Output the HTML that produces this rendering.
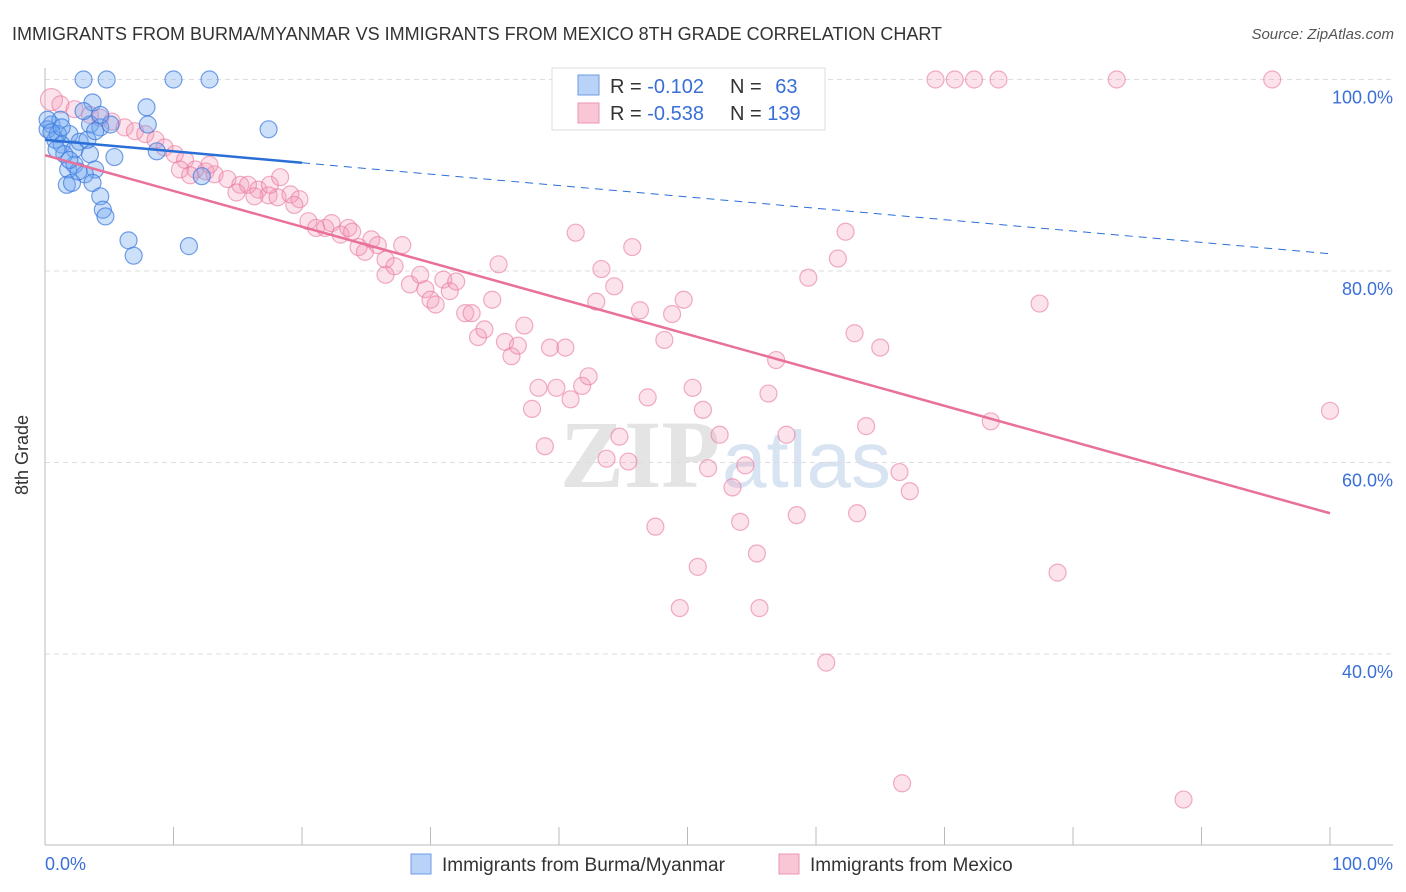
<!DOCTYPE html>
<html><head><meta charset="utf-8"><style>
body{margin:0;background:#fff;font-family:"Liberation Sans",sans-serif}
svg{display:block}
</style></head><body>
<svg id="chart" width="1406" height="892" xmlns="http://www.w3.org/2000/svg">
<text x="12" y="40" font-size="18" fill="#333">IMMIGRANTS FROM BURMA/MYANMAR VS IMMIGRANTS FROM MEXICO 8TH GRADE CORRELATION CHART</text>
<text x="1394" y="39" font-size="15" fill="#555" font-style="italic" text-anchor="end">Source: ZipAtlas.com</text>
<text x="720" y="487" font-size="96" font-family="Liberation Serif,serif" fill="#e4e4e4" text-anchor="end" font-weight="bold">ZIP</text>
<text x="722" y="487" font-size="80" fill="#d8e4f2">atlas</text>
<g id="grid"></g><g id="axes"></g><g id="pink"></g><g id="blue"></g><g id="lines"></g>
<text x="28" y="455" font-size="18" fill="#333" text-anchor="middle" transform="rotate(-90 28 455)">8th Grade</text>
<text x="45" y="870" font-size="18" fill="#3a6fd8">0.0%</text>
<text x="1393" y="870" font-size="18" fill="#3a6fd8" text-anchor="end">100.0%</text>
<g>
<rect x="552" y="68" width="273" height="62" fill="#fff" stroke="#ddd"/>
<rect x="578" y="75" width="21" height="20" fill="#b8d3f7" stroke="#6d9be0"/>
<rect x="578" y="103" width="21" height="20" fill="#f9c6d6" stroke="#ec97b2"/>
<text x="610" y="93" font-size="20" fill="#333">R = <tspan fill="#3a6fd8">-0.102</tspan></text>
<text x="730" y="93" font-size="20" fill="#333">N = <tspan fill="#3a6fd8" dx="8">63</tspan></text>
<text x="610" y="120" font-size="20" fill="#333">R = <tspan fill="#3a6fd8">-0.538</tspan></text>
<text x="730" y="120" font-size="20" fill="#333">N = <tspan fill="#3a6fd8">139</tspan></text>
</g>
<g>
<rect x="411" y="854" width="20" height="20" fill="#b8d3f7" stroke="#6d9be0"/>
<text x="442" y="871" font-size="19" fill="#333">Immigrants from Burma/Myanmar</text>
<rect x="779" y="854" width="20" height="20" fill="#f9c6d6" stroke="#ec97b2"/>
<text x="810" y="871" font-size="19" fill="#333">Immigrants from Mexico</text>
</g>
</svg>
<script>
const yTicks=[100,80,60,40];
const yTickLabels=["100.0%","80.0%","60.0%","40.0%"];
const xTicks=[0,10,20,30,40,50,60,70,80,90,100];
const blueX=[3.0,4.8,10.0,12.8,7.9,3.7,17.4,0.5,1.2,0.2,0.8,1.9,1.3,2.3,2.7,3.5,3.9,1.8,2.3,3.1,1.7,2.1,3.7,4.3,4.5,4.7,6.5,6.9,11.2,12.2,8.7,5.4,3.5,4.3,5.1,8.0,1.0,1.5,2.6,0.2,0.5,0.9,1.3,3.0,4.3,3.3,3.9,1.9];
const blueY=[100,100,100,100,97.1,97.6,94.8,95.3,95.8,94.8,93.7,94.3,93.2,92.7,93.5,92.2,90.6,90.6,91.1,90.1,89.0,89.2,89.2,87.8,86.4,85.7,83.2,81.6,82.6,89.9,92.5,91.9,95.3,95.0,95.3,95.3,94.3,92.2,90.4,95.8,94.5,92.7,95.0,96.7,96.3,93.7,94.6,91.6];
const pinkX=[69.3,70.8,72.3,74.2,83.4,95.5,47.9,59.9,58.8,0.5,1.2,2.3,3.5,4.3,5.2,6.2,7.0,7.8,8.6,9.3,10.1,10.9,11.7,12.5,13.2,14.2,15.2,15.8,16.6,17.4,18.1,19.1,19.8,12.8,10.5,11.3,14.9,16.3,17.5,18.3,19.4,20.5,21.1,21.8,22.3,23.0,23.6,23.9,24.4,24.9,25.4,25.9,26.5,27.2,27.8,26.5,28.4,29.2,29.6,30.0,30.4,31.0,31.5,32.0,32.7,33.2,33.7,34.2,34.8,35.3,35.8,36.3,36.8,37.3,37.9,38.4,38.9,39.3,39.8,40.5,40.9,41.3,41.8,42.3,42.9,43.3,43.7,44.3,44.7,45.4,45.7,46.3,46.9,47.5,48.2,48.8,49.4,49.7,50.4,50.8,51.2,51.6,52.5,53.5,54.1,54.5,55.4,55.6,56.3,56.9,57.7,58.5,59.4,60.8,61.7,62.3,63.0,63.2,63.9,65.0,66.5,67.3,73.6,77.4,78.8,88.6,66.7,100];
const pinkY=[100,100,100,100,100,100,100,100,100,97.9,97.4,96.9,96.3,96.0,95.6,95.0,94.6,94.3,93.7,92.9,92.2,91.6,90.6,90.4,90.1,89.6,89.0,89.0,88.5,87.9,87.7,88.0,87.5,91.1,90.6,90.0,88.2,87.8,89.0,89.8,86.9,85.2,84.5,84.5,85.0,83.8,84.5,84.1,82.5,82.0,83.3,82.7,81.2,80.5,82.7,79.6,78.6,79.6,78.1,77.0,76.5,79.1,77.9,78.9,75.6,75.6,73.1,73.9,77.0,80.7,72.6,71.1,72.2,74.3,65.6,67.8,61.7,72.0,67.8,72.0,66.6,84.0,68.0,69.0,76.8,80.2,60.4,78.4,62.7,60.1,82.5,75.9,66.8,53.3,72.8,75.5,44.8,77.0,67.8,49.1,65.5,59.4,62.9,57.4,53.8,59.7,50.5,44.8,67.2,70.7,62.9,54.5,79.3,39.1,81.3,84.1,73.5,54.7,63.8,72.0,59.0,57.0,64.3,76.6,48.5,24.8,26.5,65.4];
const blueTrend=[[0,93.7],[20,91.3],[100,81.8]];
const pinkTrend=[[0,92.1],[100,54.7]];
const NS="http://www.w3.org/2000/svg";
const X=v=>45+v*12.85, Y=v=>79.5+(100-v)*9.575;
function mk(t,a,p){const e=document.createElementNS(NS,t);for(const k in a)e.setAttribute(k,a[k]);p.appendChild(e);return e;}
const grid=document.getElementById('grid');
yTicks.forEach((v,i)=>{
 const l=mk('line',{x1:45,x2:1393,y1:Y(v),y2:Y(v),stroke:'#ddd','stroke-dasharray':'5,4'},grid);
 
 
 const t=mk('text',{x:1393,y:Y(v)+24,'font-size':18,fill:'#3a6fd8','text-anchor':'end'},grid);
 t.textContent=yTickLabels[i];
 
 
});
const ax=document.getElementById('axes');
const ya=mk('line',{x1:45,x2:45,y1:68,y2:845,stroke:'#bbb'},ax);


const xa=mk('line',{x1:45,x2:1393,y1:845,y2:845,stroke:'#bbb'},ax);


xTicks.forEach(v=>{const t=mk('line',{x1:X(v),x2:X(v),y1:827,y2:845,stroke:'#bbb'},ax);
 
 });
const pg=document.getElementById('pink');
pinkX.forEach((x,i)=>{const c=mk('circle',{cx:X(x),cy:Y(pinkY[i]),r:i===9?11:8.5,fill:'rgba(244,150,180,0.28)',stroke:'rgba(232,120,160,0.6)','stroke-width':1.2},pg);
 
 });
const bg=document.getElementById('blue');
blueX.forEach((x,i)=>{const c=mk('circle',{cx:X(x),cy:Y(blueY[i]),r:8.5,fill:'rgba(110,165,240,0.35)',stroke:'rgba(60,120,220,0.7)','stroke-width':1.2},bg);
 
 });
const lg=document.getElementById('lines');
const b1=mk('line',{x1:X(blueTrend[0][0]),y1:Y(blueTrend[0][1]),x2:X(blueTrend[1][0]),y2:Y(blueTrend[1][1]),stroke:'#2a6fd6','stroke-width':2.5},lg);


const b2=mk('line',{x1:X(blueTrend[1][0]),y1:Y(blueTrend[1][1]),x2:X(blueTrend[2][0]),y2:Y(blueTrend[2][1]),stroke:'#2a6fd6','stroke-width':1,'stroke-dasharray':'8,6'},lg);


const p1=mk('line',{x1:X(pinkTrend[0][0]),y1:Y(pinkTrend[0][1]),x2:X(pinkTrend[1][0]),y2:Y(pinkTrend[1][1]),stroke:'#e8709a','stroke-width':2.5},lg);


</script>
</body></html>
